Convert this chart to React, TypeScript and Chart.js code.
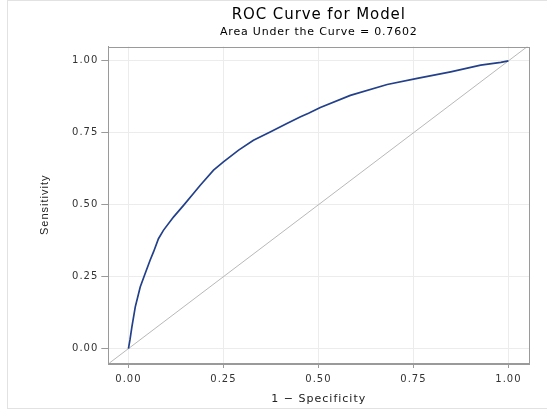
import React, { useEffect, useRef } from "react";
import { Chart, registerables } from "chart.js";

Chart.register(...registerables);

const titleText = "ROC Curve for Model";
const subtitleText = "Area Under the Curve = 0.7602";
const xAxisTitle = "1 \u2212 Specificity";
const yAxisTitle = "Sensitivity";

const fpr = [0, 0.004, 0.009, 0.018, 0.031, 0.044, 0.057, 0.066, 0.079, 0.092, 0.119, 0.145, 0.171, 0.189, 0.224, 0.25, 0.29, 0.329, 0.373, 0.417, 0.453, 0.474, 0.505, 0.584, 0.681, 0.76, 0.848, 0.927, 0.98, 1.0];
const tpr = [0, 0.03, 0.075, 0.145, 0.214, 0.261, 0.307, 0.336, 0.382, 0.411, 0.458, 0.498, 0.539, 0.568, 0.62, 0.649, 0.69, 0.724, 0.753, 0.782, 0.806, 0.818, 0.838, 0.88, 0.918, 0.939, 0.962, 0.985, 0.995, 1.0];

const diagX = [-0.05, 1.05];
const diagY = [-0.05, 1.05];

const tickValues = [0, 0.25, 0.5, 0.75, 1.0];
const xRange = [-0.053, 1.055];
const yRange = [-0.05, 1.05];

const FONT = "'DejaVu Sans', Verdana, sans-serif";
const FONT2 = "'Liberation Sans', Arial, sans-serif";

const spacingPlugin = {
  id: "letterSpacing",
  beforeDraw(chart: any) {
    (chart.ctx as any).letterSpacing = "1px";
  },
};

const titlePlugin = {
  id: "customTitles",
  afterDraw(chart: any) {
    const { ctx, chartArea } = chart;
    const cx = (chartArea.left + chartArea.right) / 2;
    ctx.save();
    ctx.fillStyle = "#000";
    ctx.textAlign = "center";
    ctx.textBaseline = "middle";
    (ctx as any).letterSpacing = "0.9px";
    ctx.font = `15px ${FONT}`;
    ctx.fillText(titleText, cx, 15);
    (ctx as any).letterSpacing = "0.8px";
    ctx.font = `11px ${FONT}`;
    ctx.fillText(subtitleText, cx, 32);
    ctx.strokeStyle = "#9a9a9a";
    ctx.lineWidth = 1;
    ctx.strokeRect(
      Math.round(chartArea.left) + 0.5,
      Math.round(chartArea.top) + 0.5,
      Math.round(chartArea.right - chartArea.left),
      Math.round(chartArea.bottom - chartArea.top)
    );
    ctx.restore();
  },
};

export default function App() {
  const ref = useRef<HTMLCanvasElement | null>(null);

  useEffect(() => {
    if (!ref.current) return;
    const setTicks = (s: any) => {
      s.ticks = tickValues.map((v) => ({ value: v }));
    };
    const chart = new Chart(ref.current, {
      type: "scatter",
      data: {
        datasets: [
          {
            label: "Diagonal",
            data: diagX.map((x, i) => ({ x, y: diagY[i] })),
            showLine: true,
            borderColor: "#b8b8b8",
            borderWidth: 1,
            pointRadius: 0,
            order: 2,
          },
          {
            label: "ROC",
            data: fpr.map((x, i) => ({ x, y: tpr[i] })),
            showLine: true,
            borderColor: "#23408a",
            borderWidth: 1.7,
            pointRadius: 0,
            tension: 0,
            order: 1,
          },
        ],
      },
      options: {
        animation: false,
        responsive: false,
        maintainAspectRatio: false,
        layout: { padding: { left: 0, right: 17.7, top: 46.5, bottom: 0 } },
        plugins: {
          legend: { display: false },
          tooltip: { enabled: false },
          title: { display: false },
        },
        scales: {
          x: {
            type: "linear",
            min: xRange[0],
            max: xRange[1],
            afterBuildTicks: setTicks,
            afterFit: (s: any) => {
              s.height = 53;
            },
            border: { display: true, color: "#9a9a9a" },
            grid: {
              color: "#ececec",
              tickColor: "#9a9a9a",
              tickLength: 5,
              drawTicks: true,
            },
            ticks: {
              font: { family: FONT, size: 10 },
              color: "#333",
              padding: 5,
              maxRotation: 0,
              callback: (v: any) => Number(v).toFixed(2),
            },
            title: {
              display: true,
              text: xAxisTitle,
              font: { family: FONT, size: 11 },
              color: "#222",
              padding: { top: 0, bottom: 10 },
            },
          },
          y: {
            type: "linear",
            min: yRange[0],
            max: yRange[1],
            afterBuildTicks: setTicks,
            afterFit: (s: any) => {
              s.width = 108.3;
            },
            border: { display: true, color: "#9a9a9a" },
            grid: {
              color: "#ececec",
              tickColor: "#9a9a9a",
              tickLength: 7,
              drawTicks: true,
            },
            ticks: {
              font: { family: FONT, size: 10 },
              color: "#333",
              padding: 3,
              callback: (v: any) => Number(v).toFixed(2),
            },
            title: {
              display: true,
              text: yAxisTitle,
              font: { family: FONT2, size: 11 },
              color: "#222",
              padding: { top: 38, bottom: 0 },
            },
          },
        },
      },
      plugins: [spacingPlugin, titlePlugin],
    });
    return () => chart.destroy();
  }, []);

  return (
    <div
      style={{
        position: "fixed",
        left: 0,
        top: 0,
        width: 547,
        height: 416,
        overflow: "hidden",
        background: "#fff",
      }}
    >
      <div
        style={{
          position: "absolute",
          left: 7,
          top: 0,
          width: 600,
          height: 409,
          border: "1px solid #e2e2e2",
          boxSizing: "border-box",
        }}
      />
      <canvas
        ref={ref}
        width={547}
        height={416}
        style={{ position: "absolute", left: 0, top: 0, width: 547, height: 416 }}
      />
    </div>
  );
}
